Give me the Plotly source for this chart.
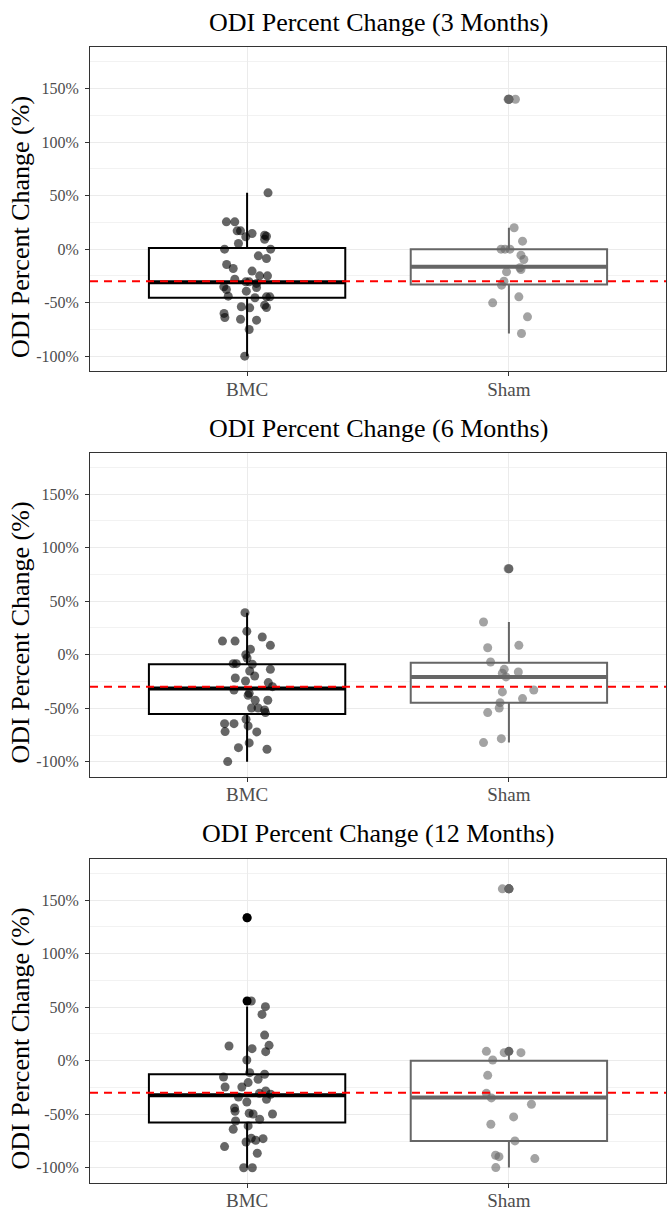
import plotly.graph_objects as go
from plotly.subplots import make_subplots

GROUPS = ["BMC", "Sham"]
PANEL_TITLES = ["ODI Percent Change (3 Months)",
                "ODI Percent Change (6 Months)",
                "ODI Percent Change (12 Months)"]
Y_TITLE = "ODI Percent Change (%)"
Y_TICKS = [-100, -50, 0, 50, 100, 150]
Y_TICK_LABELS = [f"{v}%" for v in Y_TICKS]
Y_LIMITS = [-100, 175]
REF_LINE = -30

# Box statistics: [q1, median, q3, lower whisker, upper whisker]
bmc_box_3m = [-45.4, -31.0, 1.2, -100.0, 52.6]
sham_box_3m = [-33.0, -16.5, 0.0, -78.7, 20.0]
bmc_box_6m = [-55.3, -31.7, -9.0, -100.0, 39.2]
sham_box_6m = [-44.8, -20.8, -7.5, -82.1, 30.5]
bmc_box_12m = [-57.8, -32.3, -12.7, -100.0, 50.5]
sham_box_12m = [-74.9, -34.5, 0.0, -99.8, 7.5]

# Individual patient values (percent change)
bmc_3m = [52.6, 25.5, 25.5, 17.1, 17.1, 14.6, 11.5, 13.1, 12.1, 9.3, 5.3, 0, 0, -6.2, -8.7,
          -14.3, -18.1, -20.5, -24.9, -24.9, -28, -30.5, -30.5, -32, -35.2, -37.7, -35.8,
          -39.2, -43.9, -45.4, -44.5, -44.5, -53.8, -54.8, -52.3, -54.5, -60, -63.8, -65.4,
          -66.3, -75, -99.9]
bmc_3m_jitter = [0.08, -0.079, -0.047, -0.038, -0.025, 0.019, -0.005, 0.067, 0.074, 0.067,
                 -0.033, -0.086, 0.09, 0.043, 0.074, -0.078, -0.053, 0.019, 0.048, 0.078,
                 -0.047, -0.005, 0.008, 0.036, -0.089, -0.079, 0.036, -0.003, -0.072, 0.03,
                 0.074, 0.087, -0.022, 0.01, 0.067, 0.074, -0.088, -0.085, -0.025, 0.036,
                 0.008, -0.009]
sham_3m = [140, 140, 20, 7.5, 0, 0, 0, -5.6, -9.6, -17.4, -19, -21.2, -29.9, -33.6, -44.5,
           -50.1, -63.2, -78.7]
sham_3m_jitter = [-0.003, 0.025, 0.02, 0.052, -0.03, -0.015, 0.004, 0.046, 0.057, 0.042,
                  0.046, -0.009, -0.019, -0.028, 0.038, -0.062, 0.071, 0.048]

bmc_6m = [39.2, 21.8, 12.7, 12.7, 16.5, 8.7, 5, 0, -3.1, -8.4, -8.4, -9, -15.2, -13.7, -19.9,
          -21.8, -24.6, -26.1, -29.9, -33, -36.1, -37.9, -42.6, -42.6, -49.8, -49.8, -51.6,
          -54.1, -60.3, -66.5, -64.4, -64.4, -71.8, -72.1, -82.4, -86.8, -88.3, -99.8]
bmc_6m_jitter = [-0.008, -0.001, -0.094, -0.046, 0.058, 0.089, 0.013, -0.005, 0, -0.053,
                 -0.041, 0.02, 0.01, 0.089, 0.029, -0.045, -0.006, 0.081, 0.097, -0.05,
                 0.008, 0.004, 0.031, 0.079, 0.017, 0.042, 0.067, 0.07, -0.004, 0.004,
                 -0.086, -0.05, -0.084, 0.037, 0.008, -0.033, 0.076, -0.074]
sham_6m = [80.2, 30.5, 6.5, 8.7, -6.8, -13.7, -16.2, -17.4, -20.8, -33, -34.8, -41, -44.8,
           -49.8, -54.1, -78.4, -82.1]
sham_6m_jitter = [-0.003, -0.097, -0.081, 0.038, -0.07, -0.018, 0.036, -0.025, -0.011, 0.095,
                  -0.025, 0.052, -0.034, -0.037, -0.081, -0.029, -0.097]

bmc_12m = [133.4, 55.7, 50.4, 43.2, 23.9, 14.3, 8.4, 13.7, 11.2, 0.6, -11.2, -12.7, -15.2,
           -17.4, -20.5, -24.6, -24.6, -28.3, -30.5, -31.4, -33.9, -36.1, -38.6, -44.2,
           -47.3, -49.1, -49.8, -49.8, -54.7, -56.3, -60.9, -64, -72.4, -72.8, -74.3,
           -75.9, -80.2, -86.4, -100, -100]
bmc_12m_jitter = [0, 0.016, 0.07, 0.057, 0.067, 0.084, 0.071, -0.069, 0.019, -0.001, 0.01,
                  0.067, -0.09, 0.042, 0.004, -0.084, -0.02, 0.071, 0.047, 0.09, -0.033,
                  0.074, -0.001, -0.048, -0.046, 0.008, 0.023, 0.097, 0.048, -0.044, 0.004,
                  -0.053, 0.016, 0.061, 0.033, -0.004, -0.086, 0.039, -0.013, 0.02]
sham_12m = [160.4, 160.4, 8.7, 7.5, 7.5, 0.6, -13.7, -30.5, -34.8, -40.7, -52.5, -59.4,
            -74.9, -88.3, -89.6, -91.4, -99.8]
sham_12m_jitter = [-0.025, 0, -0.086, -0.018, 0.046, -0.062, -0.081, -0.086, -0.067, 0.086,
                   0.018, -0.069, 0.023, -0.051, -0.038, 0.099, -0.05]

PANELS = [
    [(bmc_box_3m, bmc_3m, bmc_3m_jitter), (sham_box_3m, sham_3m, sham_3m_jitter)],
    [(bmc_box_6m, bmc_6m, bmc_6m_jitter), (sham_box_6m, sham_6m, sham_6m_jitter)],
    [(bmc_box_12m, bmc_12m, bmc_12m_jitter), (sham_box_12m, sham_12m, sham_12m_jitter)],
]

# ---- styling ----
W, H = 667, 1210
FONT = "Liberation Serif"
GROUP_COLORS = ["#000000", "#666666"]
POINT_COLORS = ["rgba(0,0,0,0.6)", "rgba(102,102,102,0.6)"]
BOX_W = 0.75
PANEL_PX = [(47, 371), (452.5, 776.5), (858.5, 1182.5)]  # top, bottom in px
TITLE_PX = [23, 428, 833]
YTITLE_OFFSET = 18

fig = make_subplots(rows=3, cols=1)

pad = 0.05 * (Y_LIMITS[1] - Y_LIMITS[0])
y_range = [Y_LIMITS[0] - pad, Y_LIMITS[1] + pad]

for r, panel in enumerate(PANELS, start=1):
    for g, (stats, vals, jit) in enumerate(panel):
        pos = g + 1
        q1, med, q3, lo, hi = stats
        col = GROUP_COLORS[g]
        fig.add_trace(go.Box(
            x=[pos], q1=[q1], median=[med], q3=[q3], lowerfence=[lo], upperfence=[hi],
            width=BOX_W, whiskerwidth=0, boxpoints=False,
            fillcolor="white", line=dict(color=col, width=2),
            showlegend=False, hoverinfo="skip"), row=r, col=1)
        # thicker median line (ggplot style)
        fig.add_trace(go.Scatter(
            x=[pos - BOX_W / 2, pos + BOX_W / 2], y=[med, med], mode="lines",
            line=dict(color=col, width=4), showlegend=False, hoverinfo="skip"),
            row=r, col=1)
        # outliers
        outs = [v for v in vals if v > hi or v < lo]
        if outs:
            fig.add_trace(go.Scatter(
                x=[pos] * len(outs), y=outs, mode="markers",
                marker=dict(color=col, size=9, line=dict(width=0)),
                showlegend=False, hoverinfo="skip"), row=r, col=1)
        # jittered points
        fig.add_trace(go.Scatter(
            x=[pos + j for j in jit], y=vals, mode="markers",
            marker=dict(color=POINT_COLORS[g], size=9, line=dict(width=0)),
            showlegend=False, hoverinfo="skip"), row=r, col=1)
    fig.add_hline(y=REF_LINE, line=dict(color="#ff0000", width=2, dash="8px,6px"),
                  row=r, col=1)

L, R = 90, 1
plot_w = W - L - R
for i, (top, bot) in enumerate(PANEL_PX, start=1):
    fig.update_layout(**{
        f"yaxis{'' if i == 1 else i}": dict(domain=[1 - bot / H, 1 - top / H])
    })
    fig.update_yaxes(
        range=y_range, tickmode="array", tickvals=Y_TICKS, ticktext=Y_TICK_LABELS,
        showgrid=True, gridcolor="#ebebeb", gridwidth=1.4,
        minor=dict(dtick=25, tick0=0, showgrid=True, gridcolor="#f2f2f2", gridwidth=0.8),
        zeroline=False, ticks="outside", ticklen=4, tickcolor="#333333",
        tickfont=dict(family=FONT, size=16, color="#4d4d4d"),
        showline=True, mirror=True, linecolor="#333333", linewidth=1,
        ticklabelstandoff=3, automargin=False, row=i, col=1)
    fig.update_xaxes(
        range=[0.4, 2.6], tickmode="array", tickvals=[1, 2], ticktext=GROUPS,
        showgrid=True, gridcolor="#ebebeb", gridwidth=1.4, zeroline=False,
        ticks="outside", ticklen=4, tickcolor="#333333",
        tickfont=dict(family=FONT, size=19, color="#4d4d4d"),
        showline=True, mirror=True, linecolor="#333333", linewidth=1,
        ticklabelstandoff=-3, automargin=False, row=i, col=1)
    # panel title
    fig.add_annotation(text=PANEL_TITLES[i - 1], xref="paper", yref="paper",
                       x=0.5, y=1 - TITLE_PX[i - 1] / H, xanchor="center", yanchor="middle",
                       showarrow=False, font=dict(family=FONT, size=26, color="black"))
    # y-axis title
    mid = (top + bot) / 2 + YTITLE_OFFSET
    fig.add_annotation(text=Y_TITLE, xref="paper", yref="paper",
                       x=(20 - L) / plot_w, y=1 - mid / H, xanchor="center", yanchor="middle",
                       textangle=-90, showarrow=False,
                       font=dict(family=FONT, size=26, color="black"))

fig.update_layout(
    width=W, height=H, margin=dict(l=L, r=R, t=0, b=0, autoexpand=False),
    plot_bgcolor="white", paper_bgcolor="white", showlegend=False,
)

fig.write_html("out.html", config={"displayModeBar": False},
               post_script="document.body.style.margin='0';")
